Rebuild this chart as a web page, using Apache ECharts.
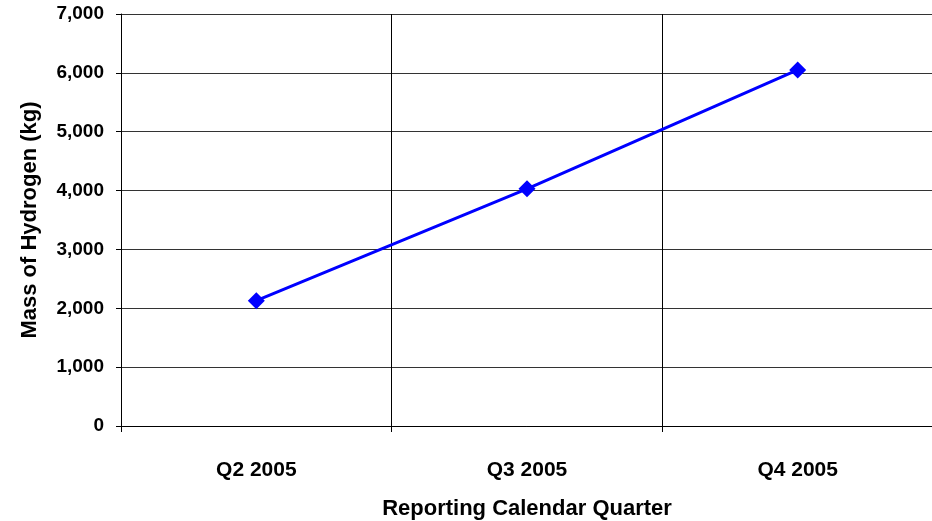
<!DOCTYPE html>
<html><head><meta charset="utf-8">
<script src="https://cdn.jsdelivr.net/npm/echarts@6/dist/echarts.min.js"></script>
<style>html,body{margin:0;padding:0;background:#fff}#c{width:932px;height:521px}</style>
</head><body><div id="c"></div>
<script>
const categories = ['Q2 2005', 'Q3 2005', 'Q4 2005'];
const hydrogenMass = [2130, 4030, 6050];
const yTicks = [0, 1000, 2000, 3000, 4000, 5000, 6000, 7000];

const font = 'Liberation Sans, Arial, sans-serif';
const chart = echarts.init(document.getElementById('c'), null, {renderer: 'canvas'});
chart.setOption({
  animation: false,
  backgroundColor: '#fff',
  grid: {left: 121, right: -1, top: 14, bottom: 95, containLabel: false, outerBoundsMode: 'none'},
  xAxis: {
    type: 'category', data: categories, boundaryGap: true,
    name: 'Reporting Calendar Quarter', nameLocation: 'middle', nameGap: 72,
    nameTextStyle: {fontFamily: font, fontWeight: 'bold', fontSize: 22, color: '#000'},
    axisLine: {lineStyle: {color: '#000', width: 1}},
    axisTick: {show: true, length: 6, lineStyle: {color: '#000'}},
    axisLabel: {fontFamily: font, fontWeight: 'bold', fontSize: 21, color: '#000', margin: 34},
    splitLine: {show: true, lineStyle: {color: '#000', width: 1}}
  },
  yAxis: {
    type: 'value', min: yTicks[0], max: yTicks[yTicks.length - 1], interval: 1000,
    name: 'Mass of Hydrogen (kg)', nameLocation: 'middle', nameGap: 80,
    nameTextStyle: {fontFamily: font, fontWeight: 'bold', fontSize: 22, color: '#000'},
    axisLine: {show: true, lineStyle: {color: '#000', width: 1}},
    axisTick: {show: true, length: 5, lineStyle: {color: '#000'}},
    axisLabel: {fontFamily: font, fontWeight: 'bold', fontSize: 19, color: '#000', margin: 17,
      formatter: v => v.toLocaleString('en-US')},
    splitLine: {show: true, lineStyle: {color: '#333', width: 1}}
  },
  series: [{
    type: 'line', data: hydrogenMass,
    symbol: 'diamond', symbolSize: 17,
    lineStyle: {color: '#0000FF', width: 3},
    itemStyle: {color: '#0000FF'}
  }]
});
</script></body></html>
